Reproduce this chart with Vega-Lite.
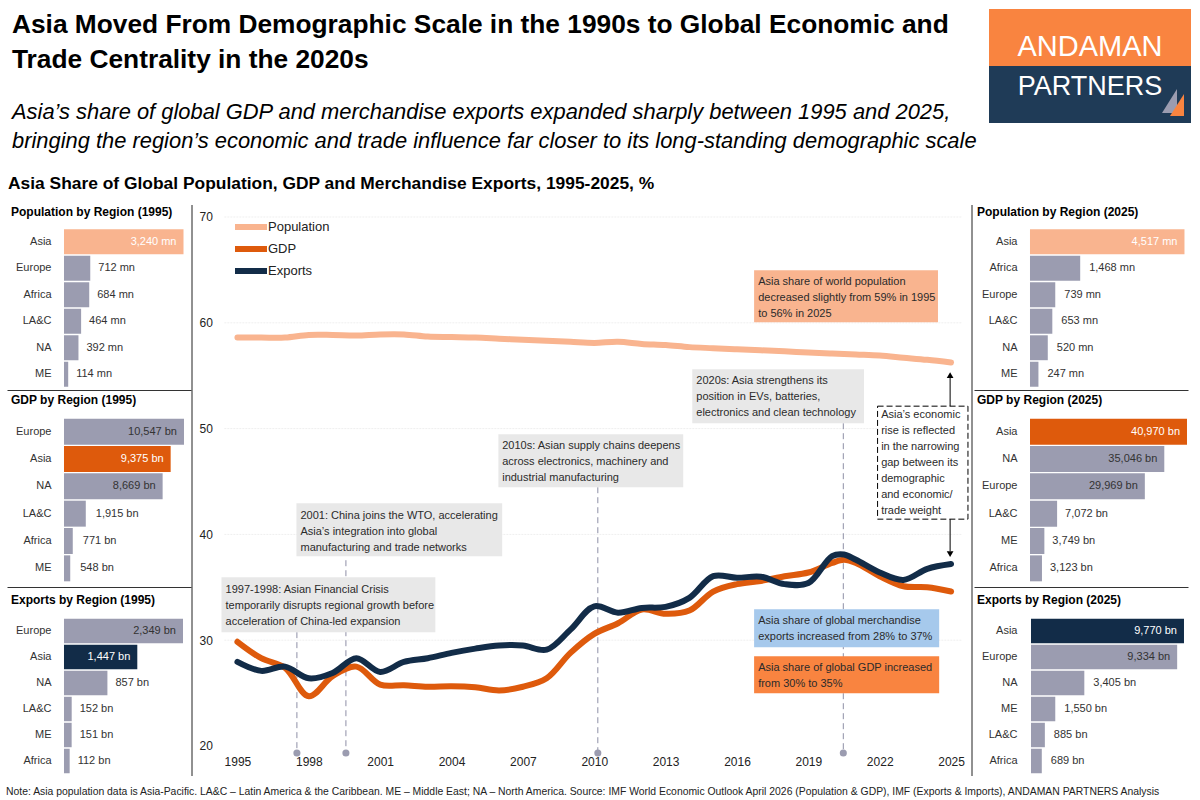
{"$schema":"https://vega.github.io/schema/vega-lite/v6.json","padding":0,"background":"white","spacing":0,"resolve":{"scale":{"fill":"independent","stroke":"independent","shape":"independent"}},"config":{"font":"Liberation Sans","view":{"stroke":null},"title":{"anchor":"start","frame":"group","fontSize":12,"fontWeight":"bold","color":"#000","baseline":"middle"},"axis":{"labelFont":"Liberation Sans","labelFontSize":11,"labelColor":"#333"}},
"datasets":{
"head":[
{"role":"headline","px":12,"py":33,"text":"Asia Moved From Demographic Scale in the 1990s to Global Economic and"},
{"role":"headline","px":12,"py":68,"text":"Trade Centrality in the 2020s"},
{"role":"sub","px":12,"py":119,"text":"Asia’s share of global GDP and merchandise exports expanded sharply between 1995 and 2025,"},
{"role":"sub","px":12,"py":148,"text":"bringing the region’s economic and trade influence far closer to its long-standing demographic scale"},
{"role":"section","px":8,"py":189,"text":"Asia Share of Global Population, GDP and Merchandise Exports, 1995-2025, %"},
{"role":"logoA","px":1090,"py":56,"text":"ANDAMAN"},
{"role":"logoB","px":1090,"py":95,"text":"PARTNERS"}],
"logo":[{"part":"orange","px":989,"px2":1191,"py":9,"py2":66},{"part":"navy","px":989,"px2":1191,"py":66,"py2":123}],
"sails":[{"sail":"grey","px":1162,"py":113,"py2":113},{"sail":"grey","px":1177,"py":89,"py2":113},{"sail":"orange","px":1170,"py":116,"py2":116},{"sail":"orange","px":1184,"py":94,"py2":116}],
"bars":[
{"panel":"pop1995","region":"Asia","value":3240,"label":"3,240 mn","group":"Population","inside":true},
{"panel":"pop1995","region":"Europe","value":712,"label":"712 mn","group":"Other","inside":false},
{"panel":"pop1995","region":"Africa","value":684,"label":"684 mn","group":"Other","inside":false},
{"panel":"pop1995","region":"LA&C","value":464,"label":"464 mn","group":"Other","inside":false},
{"panel":"pop1995","region":"NA","value":392,"label":"392 mn","group":"Other","inside":false},
{"panel":"pop1995","region":"ME","value":114,"label":"114 mn","group":"Other","inside":false},
{"panel":"gdp1995","region":"Europe","value":10547,"label":"10,547 bn","group":"Other","inside":true},
{"panel":"gdp1995","region":"Asia","value":9375,"label":"9,375 bn","group":"GDP","inside":true},
{"panel":"gdp1995","region":"NA","value":8669,"label":"8,669 bn","group":"Other","inside":true},
{"panel":"gdp1995","region":"LA&C","value":1915,"label":"1,915 bn","group":"Other","inside":false},
{"panel":"gdp1995","region":"Africa","value":771,"label":"771 bn","group":"Other","inside":false},
{"panel":"gdp1995","region":"ME","value":548,"label":"548 bn","group":"Other","inside":false},
{"panel":"exp1995","region":"Europe","value":2349,"label":"2,349 bn","group":"Other","inside":true},
{"panel":"exp1995","region":"Asia","value":1447,"label":"1,447 bn","group":"Exports","inside":true},
{"panel":"exp1995","region":"NA","value":857,"label":"857 bn","group":"Other","inside":false},
{"panel":"exp1995","region":"LA&C","value":152,"label":"152 bn","group":"Other","inside":false},
{"panel":"exp1995","region":"ME","value":151,"label":"151 bn","group":"Other","inside":false},
{"panel":"exp1995","region":"Africa","value":112,"label":"112 bn","group":"Other","inside":false},
{"panel":"pop2025","region":"Asia","value":4517,"label":"4,517 mn","group":"Population","inside":true},
{"panel":"pop2025","region":"Africa","value":1468,"label":"1,468 mn","group":"Other","inside":false},
{"panel":"pop2025","region":"Europe","value":739,"label":"739 mn","group":"Other","inside":false},
{"panel":"pop2025","region":"LA&C","value":653,"label":"653 mn","group":"Other","inside":false},
{"panel":"pop2025","region":"NA","value":520,"label":"520 mn","group":"Other","inside":false},
{"panel":"pop2025","region":"ME","value":247,"label":"247 mn","group":"Other","inside":false},
{"panel":"gdp2025","region":"Asia","value":40970,"label":"40,970 bn","group":"GDP","inside":true},
{"panel":"gdp2025","region":"NA","value":35046,"label":"35,046 bn","group":"Other","inside":true},
{"panel":"gdp2025","region":"Europe","value":29969,"label":"29,969 bn","group":"Other","inside":true},
{"panel":"gdp2025","region":"LA&C","value":7072,"label":"7,072 bn","group":"Other","inside":false},
{"panel":"gdp2025","region":"ME","value":3749,"label":"3,749 bn","group":"Other","inside":false},
{"panel":"gdp2025","region":"Africa","value":3123,"label":"3,123 bn","group":"Other","inside":false},
{"panel":"exp2025","region":"Asia","value":9770,"label":"9,770 bn","group":"Exports","inside":true},
{"panel":"exp2025","region":"Europe","value":9334,"label":"9,334 bn","group":"Other","inside":true},
{"panel":"exp2025","region":"NA","value":3405,"label":"3,405 bn","group":"Other","inside":false},
{"panel":"exp2025","region":"ME","value":1550,"label":"1,550 bn","group":"Other","inside":false},
{"panel":"exp2025","region":"LA&C","value":885,"label":"885 bn","group":"Other","inside":false},
{"panel":"exp2025","region":"Africa","value":689,"label":"689 bn","group":"Other","inside":false}],
"series":[
{"year":1995,"series":"Population","share":58.6},{"year":1996,"series":"Population","share":58.6},{"year":1997,"series":"Population","share":58.6},{"year":1998,"series":"Population","share":58.85},{"year":1999,"series":"Population","share":58.85},{"year":2000,"series":"Population","share":58.8},{"year":2001,"series":"Population","share":58.9},{"year":2002,"series":"Population","share":58.9},{"year":2003,"series":"Population","share":58.7},{"year":2004,"series":"Population","share":58.65},{"year":2005,"series":"Population","share":58.6},{"year":2006,"series":"Population","share":58.5},{"year":2007,"series":"Population","share":58.4},{"year":2008,"series":"Population","share":58.3},{"year":2009,"series":"Population","share":58.2},{"year":2010,"series":"Population","share":58.1},{"year":2011,"series":"Population","share":58.2},{"year":2012,"series":"Population","share":58.0},{"year":2013,"series":"Population","share":57.9},{"year":2014,"series":"Population","share":57.7},{"year":2015,"series":"Population","share":57.6},{"year":2016,"series":"Population","share":57.5},{"year":2017,"series":"Population","share":57.4},{"year":2018,"series":"Population","share":57.3},{"year":2019,"series":"Population","share":57.2},{"year":2020,"series":"Population","share":57.1},{"year":2021,"series":"Population","share":57.0},{"year":2022,"series":"Population","share":56.9},{"year":2023,"series":"Population","share":56.7},{"year":2024,"series":"Population","share":56.5},{"year":2025,"series":"Population","share":56.25},
{"year":1995,"series":"GDP","share":29.85},{"year":1996,"series":"GDP","share":28.3},{"year":1997,"series":"GDP","share":27.4},{"year":1998,"series":"GDP","share":24.7},{"year":1999,"series":"GDP","share":26.6},{"year":2000,"series":"GDP","share":27.5},{"year":2001,"series":"GDP","share":25.8},{"year":2002,"series":"GDP","share":25.75},{"year":2003,"series":"GDP","share":25.6},{"year":2004,"series":"GDP","share":25.65},{"year":2005,"series":"GDP","share":25.55},{"year":2006,"series":"GDP","share":25.25},{"year":2007,"series":"GDP","share":25.6},{"year":2008,"series":"GDP","share":26.4},{"year":2009,"series":"GDP","share":28.8},{"year":2010,"series":"GDP","share":30.6},{"year":2011,"series":"GDP","share":31.6},{"year":2012,"series":"GDP","share":32.9},{"year":2013,"series":"GDP","share":32.5},{"year":2014,"series":"GDP","share":32.8},{"year":2015,"series":"GDP","share":34.6},{"year":2016,"series":"GDP","share":35.3},{"year":2017,"series":"GDP","share":35.6},{"year":2018,"series":"GDP","share":36.05},{"year":2019,"series":"GDP","share":36.4},{"year":2020,"series":"GDP","share":37.3},{"year":2020.5,"series":"GDP","share":37.6},{"year":2021,"series":"GDP","share":37.3},{"year":2022,"series":"GDP","share":36.05},{"year":2023,"series":"GDP","share":35.1},{"year":2024,"series":"GDP","share":35.0},{"year":2025,"series":"GDP","share":34.6},
{"year":1995,"series":"Exports","share":27.95},{"year":1996,"series":"Exports","share":27.1},{"year":1997,"series":"Exports","share":27.5},{"year":1998,"series":"Exports","share":26.4},{"year":1999,"series":"Exports","share":26.9},{"year":2000,"series":"Exports","share":28.3},{"year":2001,"series":"Exports","share":27.0},{"year":2002,"series":"Exports","share":27.95},{"year":2003,"series":"Exports","share":28.3},{"year":2004,"series":"Exports","share":28.8},{"year":2005,"series":"Exports","share":29.2},{"year":2006,"series":"Exports","share":29.5},{"year":2007,"series":"Exports","share":29.5},{"year":2008,"series":"Exports","share":29.1},{"year":2009,"series":"Exports","share":31.0},{"year":2010,"series":"Exports","share":33.2},{"year":2011,"series":"Exports","share":32.6},{"year":2012,"series":"Exports","share":33.05},{"year":2013,"series":"Exports","share":33.15},{"year":2014,"series":"Exports","share":34.0},{"year":2015,"series":"Exports","share":36.05},{"year":2016,"series":"Exports","share":35.9},{"year":2017,"series":"Exports","share":36.0},{"year":2018,"series":"Exports","share":35.3},{"year":2019,"series":"Exports","share":35.4},{"year":2020,"series":"Exports","share":37.95},{"year":2020.5,"series":"Exports","share":38.1},{"year":2021,"series":"Exports","share":37.6},{"year":2022,"series":"Exports","share":36.4},{"year":2023,"series":"Exports","share":35.7},{"year":2024,"series":"Exports","share":36.75},{"year":2025,"series":"Exports","share":37.2}],
"grid":[{"year":1994.45,"year2":2025.46,"share":30},{"year":1994.45,"year2":2025.46,"share":40},{"year":1994.45,"year2":2025.46,"share":50},{"year":1994.45,"year2":2025.46,"share":60},{"year":1994.45,"year2":2025.46,"share":70}],
"frames":[{"year":1993.09,"share":17.164,"share2":71.134},{"year":2025.88,"share":17.164,"share2":71.134}],
"events":[{"year":1997.5,"share":30.76,"share2":19.34},{"year":1999.56,"share":37.56,"share2":19.34},{"year":2010.15,"share":44.46,"share2":19.34},{"year":2020.47,"share":50.51,"share2":19.34}],
"dots":[{"year":1997.5,"share":19.34},{"year":1999.56,"share":19.34},{"year":2010.15,"share":19.34},{"year":2020.47,"share":19.34}],
"boxes":[
{"kind":"event","year":1994.33,"year2":2003.32,"share":35.95,"share2":30.76},
{"kind":"event","year":1997.48,"year2":2006.13,"share":42.95,"share2":37.94},
{"kind":"event","year":2005.97,"year2":2013.74,"share":49.47,"share2":44.46},
{"kind":"event","year":2014.12,"year2":2021.34,"share":55.61,"share2":50.51},
{"kind":"population","year":2016.72,"year2":2024.45,"share":64.97,"share2":60.06},
{"kind":"exports","year":2016.72,"year2":2024.5,"share":32.93,"share2":29.34},
{"kind":"gdp","year":2016.72,"year2":2024.5,"share":28.49,"share2":24.99}],
"gapBox":[{"year":2021.91,"year2":2025.71,"share":52.12,"share2":41.44}],
"arrows":[{"year":2024.96,"share":52.12,"share2":54.86},{"year":2024.96,"share":41.44,"share2":38.41}],
"heads":[{"year":2024.96,"share":55.05,"dir":"up"},{"year":2024.96,"share":38.13,"dir":"down"}],
"notes":[
{"year":1994.5,"share":34.75,"lines":["1997-1998: Asian Financial Crisis","temporarily disrupts regional growth before","acceleration of China-led expansion"]},
{"year":1997.65,"share":41.75,"lines":["2001: China joins the WTO, accelerating","Asia’s integration into global","manufacturing and trade networks"]},
{"year":2006.13,"share":48.34,"lines":["2010s: Asian supply chains deepens","across electronics, machinery and","industrial manufacturing"]},
{"year":2014.29,"share":54.48,"lines":["2020s: Asia strengthens its","position in EVs, batteries,","electronics and clean technology"]},
{"year":2016.89,"share":63.84,"lines":["Asia share of world population","decreased slightly from 59% in 1995","to 56% in 2025"]},
{"year":2016.89,"share":31.8,"lines":["Asia share of global merchandise","exports increased from 28% to 37%"]},
{"year":2016.89,"share":27.38,"lines":["Asia share of global GDP increased","from 30% to 35%"]},
{"year":2022.06,"share":51.27,"lines":["Asia’s economic","rise is reflected","in the narrowing","gap between its","demographic","and economic/","trade weight"]}],
"foot":[{"px":6,"py":18,"text":"Note: Asia population data is Asia-Pacific. LA&C – Latin America & the Caribbean. ME – Middle East; NA – North America. Source: IMF World Economic Outlook April 2026 (Population & GDP), IMF (Exports & Imports), ANDAMAN PARTNERS Analysis"}]
},
"vconcat":[
{"width":1200,"height":204,"resolve":{"scale":{"fill":"independent"}},
"encoding":{"x":{"field":"px","type":"quantitative","scale":{"domain":[0,1200],"nice":false,"zero":false},"axis":null},"y":{"field":"py","type":"quantitative","scale":{"domain":[0,204],"reverse":true,"nice":false,"zero":false},"axis":null}},
"layer":[
{"data":{"name":"logo"},"mark":{"type":"rect"},"encoding":{"x2":{"field":"px2"},"y2":{"field":"py2"},"fill":{"field":"part","type":"nominal","scale":{"domain":["orange","navy"],"range":["#F98440","#1F3B57"]},"legend":null}}},
{"data":{"name":"sails"},"mark":{"type":"area","line":false},"encoding":{"y2":{"field":"py2"},"detail":{"field":"sail"},"fill":{"field":"sail","type":"nominal","scale":{"domain":["grey","orange"],"range":["#9B9CB0","#F98440"]},"legend":null}}},
{"data":{"name":"head"},"transform":[{"filter":"datum.role==='headline'"}],"mark":{"type":"text","align":"left","baseline":"alphabetic","fontSize":26.3,"fontWeight":"bold","color":"#000"},"encoding":{"text":{"field":"text"}}},
{"data":{"name":"head"},"transform":[{"filter":"datum.role==='sub'"}],"mark":{"type":"text","align":"left","baseline":"alphabetic","fontSize":21.9,"fontStyle":"italic","color":"#000"},"encoding":{"text":{"field":"text"}}},
{"data":{"name":"head"},"transform":[{"filter":"datum.role==='section'"}],"mark":{"type":"text","align":"left","baseline":"alphabetic","fontSize":17.4,"fontWeight":"bold","color":"#000"},"encoding":{"text":{"field":"text"}}},
{"data":{"name":"head"},"transform":[{"filter":"datum.role==='logoA'"}],"mark":{"type":"text","align":"center","baseline":"alphabetic","fontSize":29,"color":"#fff"},"encoding":{"text":{"field":"text"}}},
{"data":{"name":"head"},"transform":[{"filter":"datum.role==='logoB'"}],"mark":{"type":"text","align":"center","baseline":"alphabetic","fontSize":27,"color":"#fff"},"encoding":{"text":{"field":"text"}}}
]},
{"hconcat":[
{"vconcat":[
{"title":{"text":"Population by Region (1995)","dx":11,"offset":-14},"width":191,"height":185,"data":{"name":"bars"},"transform":[{"filter":"datum.panel==='pop1995'"}],
"encoding":{"y":{"field":"region","type":"nominal","sort":null,"scale":{"range":[23.5,182.5],"paddingInner":0.06,"paddingOuter":0.03},"axis":{"title":null,"domain":false,"ticks":false,"labelPadding":0,"offset":-51}},"x":{"field":"value","type":"quantitative","scale":{"domain":[-1545.4,3443.3],"range":[7,191],"nice":false,"zero":false},"axis":{"title":null,"labels":false,"ticks":false,"grid":false,"domain":true,"domainColor":"#333"}}},
"layer":[{"mark":{"type":"bar"},"encoding":{"fill":{"field":"group","type":"nominal","scale":{"domain":["Population","GDP","Exports","Other"],"range":["#F9B48F","#DE5A0C","#122C48","#9B9CB0"]},"legend":null}}},
{"transform":[{"filter":"datum.inside"}],"mark":{"type":"text","align":"right","dx":-7,"fontSize":11},"encoding":{"text":{"field":"label"},"color":{"condition":{"test":"datum.group!=='Other'","value":"#fff"},"value":"#333"}}},
{"transform":[{"filter":"!datum.inside"}],"mark":{"type":"text","align":"left","dx":8,"fontSize":11,"color":"#333"},"encoding":{"text":{"field":"label"}}}]},
{"title":{"text":"GDP by Region (1995)","dx":11,"offset":-17},"width":191,"height":197,"data":{"name":"bars"},"transform":[{"filter":"datum.panel==='gdp1995'"}],
"encoding":{"y":{"field":"region","type":"nominal","sort":null,"scale":{"range":[28,192],"paddingInner":0.05,"paddingOuter":0.025},"axis":{"title":null,"domain":false,"ticks":false,"labelPadding":0,"offset":-51}},"x":{"field":"value","type":"quantitative","scale":{"domain":[-5010,11163],"range":[7,191],"nice":false,"zero":false},"axis":{"title":null,"labels":false,"ticks":false,"grid":false,"domain":true,"domainColor":"#333"}}},
"layer":[{"mark":{"type":"bar"},"encoding":{"fill":{"field":"group","type":"nominal","scale":{"domain":["Population","GDP","Exports","Other"],"range":["#F9B48F","#DE5A0C","#122C48","#9B9CB0"]},"legend":null}}},
{"transform":[{"filter":"datum.inside"}],"mark":{"type":"text","align":"right","dx":-7,"fontSize":11},"encoding":{"text":{"field":"label"},"color":{"condition":{"test":"datum.group!=='Other'","value":"#fff"},"value":"#333"}}},
{"transform":[{"filter":"!datum.inside"}],"mark":{"type":"text","align":"left","dx":10,"fontSize":11,"color":"#333"},"encoding":{"text":{"field":"label"}}}]},
{"title":{"text":"Exports by Region (1995)","dx":11,"offset":-19.5},"width":191,"height":189,"data":{"name":"bars"},"transform":[{"filter":"datum.panel==='exp1995'"}],
"encoding":{"y":{"field":"region","type":"nominal","sort":null,"scale":{"range":[31,187],"paddingInner":0.06,"paddingOuter":0.03},"axis":{"title":null,"domain":false,"ticks":false,"labelPadding":0,"offset":-51}},"x":{"field":"value","type":"quantitative","scale":{"domain":[-1125,2507],"range":[7,191],"nice":false,"zero":false},"axis":null}},
"layer":[{"mark":{"type":"bar"},"encoding":{"fill":{"field":"group","type":"nominal","scale":{"domain":["Population","GDP","Exports","Other"],"range":["#F9B48F","#DE5A0C","#122C48","#9B9CB0"]},"legend":null}}},
{"transform":[{"filter":"datum.inside"}],"mark":{"type":"text","align":"right","dx":-7,"fontSize":11},"encoding":{"text":{"field":"label"},"color":{"condition":{"test":"datum.group!=='Other'","value":"#fff"},"value":"#333"}}},
{"transform":[{"filter":"!datum.inside"}],"mark":{"type":"text","align":"left","dx":8,"fontSize":11,"color":"#333"},"encoding":{"text":{"field":"label"}}}]}
],"spacing":0,"bounds":"flush"},
{"width":780,"height":571,
"encoding":{"x":{"field":"year","type":"quantitative","scale":{"domain":[1993.09,2025.88],"nice":false,"zero":false},"axis":{"title":null,"values":[1995,1998,2001,2004,2007,2010,2013,2016,2019,2022,2025],"format":"d","domain":false,"ticks":false,"grid":false,"labelFontSize":12,"labelColor":"#222","labelBaseline":"middle","labelPadding":-15,"labelFlush":false,"labelOverlap":false}},"y":{"field":"share","type":"quantitative","scale":{"domain":[17.164,71.134],"nice":false,"zero":false},"axis":{"title":null,"values":[20,30,40,50,60,70],"domain":false,"ticks":false,"tickSize":0,"grid":false,"labelFontSize":12,"labelColor":"#222","labelAlign":"left","labelPadding":-7}}},
"layer":[
{"data":{"name":"grid"},"mark":{"type":"rule","color":"#EFEFEF","strokeWidth":1,"strokeDash":[2,1]},"encoding":{"x2":{"field":"year2"}}},
{"data":{"name":"events"},"mark":{"type":"rule","color":"#8E8FA6","strokeWidth":1,"strokeDash":[6,4]},"encoding":{"y2":{"field":"share2"}}},
{"data":{"name":"dots"},"mark":{"type":"circle","size":50,"color":"#9B9CB0","opacity":1}},
{"data":{"name":"series"},"mark":{"type":"line","interpolate":"catmull-rom","strokeWidth":6,"strokeCap":"round","strokeJoin":"round"},"encoding":{"stroke":{"field":"series","type":"nominal","scale":{"domain":["Population","GDP","Exports"],"range":["#F9B48F","#DE5A0C","#122C48"]},"legend":{"title":null,"orient":"none","legendX":40,"legendY":11,"padding":0,"symbolType":"stroke","symbolSize":1024,"symbolStrokeWidth":6,"clipHeight":22,"rowPadding":0,"labelOffset":-2,"labelFontSize":13,"labelColor":"#222","labelFont":"Liberation Sans","encoding":{"symbols":{"update":{"strokeCap":{"value":"round"}}}}}}}},
{"data":{"name":"boxes"},"mark":{"type":"rect"},"encoding":{"x2":{"field":"year2"},"y2":{"field":"share2"},"fill":{"field":"kind","type":"nominal","scale":{"domain":["event","population","exports","gdp"],"range":["#E8E8E8","#F9B48F","#A6C9EC","#F98440"]},"legend":null}}},
{"data":{"name":"gapBox"},"mark":{"type":"rect","fill":"#fff","stroke":"#000","strokeWidth":1,"strokeDash":[6,3]},"encoding":{"x2":{"field":"year2"},"y2":{"field":"share2"}}},
{"data":{"name":"arrows"},"mark":{"type":"rule","color":"#000","strokeWidth":1},"encoding":{"y2":{"field":"share2"}}},
{"data":{"name":"heads"},"mark":{"type":"point","filled":true,"opacity":1,"size":45,"color":"#000"},"encoding":{"shape":{"field":"dir","type":"nominal","scale":{"domain":["up","down"],"range":["triangle-up","triangle-down"]},"legend":null}}},
{"data":{"name":"notes"},"mark":{"type":"text","align":"left","baseline":"middle","fontSize":11,"lineHeight":16,"color":"#2b2b2b"},"encoding":{"text":{"field":"lines"}}},
{"data":{"name":"frames"},"mark":{"type":"rule","color":"#222","strokeWidth":1},"encoding":{"y2":{"field":"share2"}}}
]},
{"vconcat":[
{"title":{"text":"Population by Region (2025)","dx":4,"offset":-14},"width":215,"height":185,"data":{"name":"bars"},"transform":[{"filter":"datum.panel==='pop2025'"}],
"encoding":{"y":{"field":"region","type":"nominal","sort":null,"scale":{"range":[23.5,182.5],"paddingInner":0.06,"paddingOuter":0.03},"axis":{"title":null,"domain":false,"ticks":false,"labelPadding":0,"offset":-44}},"x":{"field":"value","type":"quantitative","scale":{"domain":[-1637,4620],"range":[1,215],"nice":false,"zero":false},"axis":{"title":null,"labels":false,"ticks":false,"grid":false,"domain":true,"domainColor":"#333"}}},
"layer":[{"mark":{"type":"bar"},"encoding":{"fill":{"field":"group","type":"nominal","scale":{"domain":["Population","GDP","Exports","Other"],"range":["#F9B48F","#DE5A0C","#122C48","#9B9CB0"]},"legend":null}}},
{"transform":[{"filter":"datum.inside"}],"mark":{"type":"text","align":"right","dx":-7,"fontSize":11},"encoding":{"text":{"field":"label"},"color":{"condition":{"test":"datum.group!=='Other'","value":"#fff"},"value":"#333"}}},
{"transform":[{"filter":"!datum.inside"}],"mark":{"type":"text","align":"left","dx":9,"fontSize":11,"color":"#333"},"encoding":{"text":{"field":"label"}}}]},
{"title":{"text":"GDP by Region (2025)","dx":4,"offset":-17},"width":215,"height":197,"data":{"name":"bars"},"transform":[{"filter":"datum.panel==='gdp2025'"}],
"encoding":{"y":{"field":"region","type":"nominal","sort":null,"scale":{"range":[28,192],"paddingInner":0.05,"paddingOuter":0.025},"axis":{"title":null,"domain":false,"ticks":false,"labelPadding":0,"offset":-44}},"x":{"field":"value","type":"quantitative","scale":{"domain":[-14614,41232],"range":[1,215],"nice":false,"zero":false},"axis":{"title":null,"labels":false,"ticks":false,"grid":false,"domain":true,"domainColor":"#333"}}},
"layer":[{"mark":{"type":"bar"},"encoding":{"fill":{"field":"group","type":"nominal","scale":{"domain":["Population","GDP","Exports","Other"],"range":["#F9B48F","#DE5A0C","#122C48","#9B9CB0"]},"legend":null}}},
{"transform":[{"filter":"datum.inside"}],"mark":{"type":"text","align":"right","dx":-7,"fontSize":11},"encoding":{"text":{"field":"label"},"color":{"condition":{"test":"datum.group!=='Other'","value":"#fff"},"value":"#333"}}},
{"transform":[{"filter":"!datum.inside"}],"mark":{"type":"text","align":"left","dx":8,"fontSize":11,"color":"#333"},"encoding":{"text":{"field":"label"}}}]},
{"title":{"text":"Exports by Region (2025)","dx":4,"offset":-20},"width":215,"height":189,"data":{"name":"bars"},"transform":[{"filter":"datum.panel==='exp2025'"}],
"encoding":{"y":{"field":"region","type":"nominal","sort":null,"scale":{"range":[31,187],"paddingInner":0.06,"paddingOuter":0.03},"axis":{"title":null,"domain":false,"ticks":false,"labelPadding":0,"offset":-44}},"x":{"field":"value","type":"quantitative","scale":{"domain":[-3640,10026],"range":[1,215],"nice":false,"zero":false},"axis":null}},
"layer":[{"mark":{"type":"bar"},"encoding":{"fill":{"field":"group","type":"nominal","scale":{"domain":["Population","GDP","Exports","Other"],"range":["#F9B48F","#DE5A0C","#122C48","#9B9CB0"]},"legend":null}}},
{"transform":[{"filter":"datum.inside"}],"mark":{"type":"text","align":"right","dx":-7,"fontSize":11},"encoding":{"text":{"field":"label"},"color":{"condition":{"test":"datum.group!=='Other'","value":"#fff"},"value":"#333"}}},
{"transform":[{"filter":"!datum.inside"}],"mark":{"type":"text","align":"left","dx":9,"fontSize":11,"color":"#333"},"encoding":{"text":{"field":"label"}}}]}
],"spacing":0,"bounds":"flush"}
],"spacing":0,"resolve":{"scale":{"fill":"independent","stroke":"independent","shape":"independent"}}},
{"width":1200,"height":25,"data":{"name":"foot"},"mark":{"type":"text","align":"left","baseline":"alphabetic","fontSize":10.4,"color":"#222"},"encoding":{"x":{"field":"px","type":"quantitative","scale":{"domain":[0,1200],"nice":false,"zero":false},"axis":null},"y":{"field":"py","type":"quantitative","scale":{"domain":[0,25],"reverse":true,"nice":false,"zero":false},"axis":null},"text":{"field":"text"}}}
]}
